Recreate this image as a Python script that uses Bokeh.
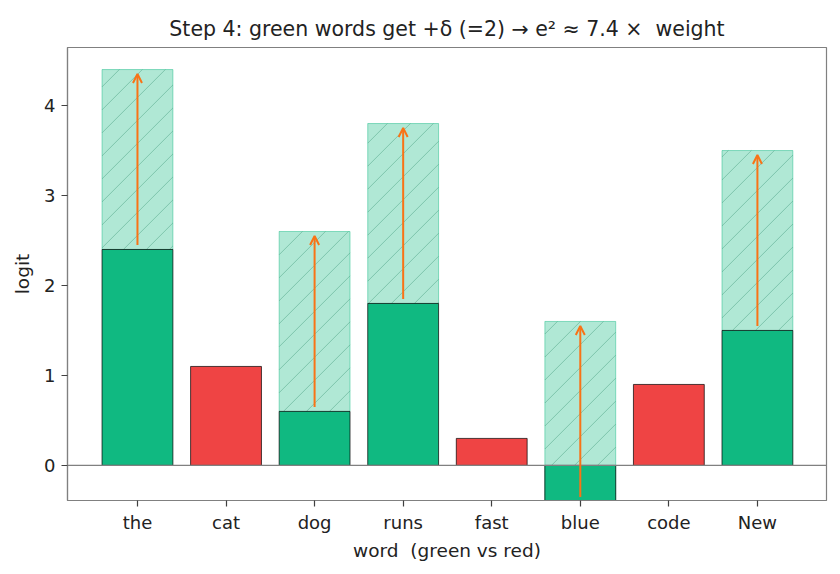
import numpy as np
from bokeh.plotting import figure
from bokeh.models import ColumnDataSource, Arrow, OpenHead, Span, Range1d, FixedTicker
from bokeh.embed import file_html
from bokeh.resources import INLINE

words = ["the", "cat", "dog", "runs", "fast", "blue", "code", "New"]
logits = [2.4, 1.1, 0.6, 1.8, 0.3, -0.4, 0.9, 1.5]
is_green = [True, False, True, True, False, True, False, True]
delta = 2.0

GREEN = "#10b981"
RED = "#ef4444"
ORANGE = "#f97316"
FONT = "DejaVu Sans"
NB = "\u00a0"
BAR_W = 0.8

XR = (-0.79, 7.78)
YR = (-0.39, 4.645)
FW, FH = 759, 453

xs = list(range(len(words)))
colors = [GREEN if g else RED for g in is_green]

gx = [x for x, g in zip(xs, is_green) if g]
gv = [v for v, g in zip(logits, is_green) if g]
boost_src = ColumnDataSource(dict(x=gx, bottom=gv, top=[v + delta for v in gv]))
bar_src = ColumnDataSource(dict(x=xs, top=logits, color=colors))
arrow_src = ColumnDataSource(dict(x=gx, y0=[v + 0.05 for v in gv], y1=[v + delta - 0.05 for v in gv]))

# 45-degree (on screen) hatch lines clipped to each boosted bar
px_x = FW / (XR[1] - XR[0])
px_y = FH / (YR[1] - YR[0])
m = px_x / px_y
d = 23.0 / px_y
hx0, hy0, hx1, hy1 = [], [], [], []
for x, b in zip(gx, gv):
    t = b + delta
    x0, x1 = x - BAR_W / 2, x + BAR_W / 2
    kmin = int(np.floor((b - m * x1) / d)) - 1
    kmax = int(np.ceil((t - m * x0) / d)) + 1
    for k in range(kmin, kmax + 1):
        c = k * d
        sx = max(x0, (b - c) / m)
        ex = min(x1, (t - c) / m)
        if ex - sx > 1e-6:
            hx0.append(sx); hy0.append(m * sx + c)
            hx1.append(ex); hy1.append(m * ex + c)
hatch_src = ColumnDataSource(dict(x0=hx0, y0=hy0, x1=hx1, y1=hy1))

p = figure(width=840, height=574, output_backend="svg", toolbar_location=None,
           x_range=Range1d(*XR), y_range=Range1d(*YR),
           min_border_left=67, min_border_right=14, min_border_top=47, min_border_bottom=74)
p.frame_width = FW
p.frame_height = FH

p.title.text = "Step 4: green words get +δ (=2) → e² ≈ 7.4 ×" + NB + NB + "weight"
p.title.align = "center"
p.title.text_font = FONT
p.title.text_font_size = "20.5px"
p.title.text_font_style = "normal"
p.title.text_color = "#222222"
p.title.standoff = 13

p.vbar(x="x", bottom="bottom", top="top", width=BAR_W, source=boost_src,
       fill_color=GREEN, fill_alpha=0.33, line_color=GREEN, line_alpha=0.45, line_width=1)
p.segment(x0="x0", y0="y0", x1="x1", y1="y1", source=hatch_src,
          line_color="#2e8b6a", line_alpha=0.38, line_width=1)
p.vbar(x="x", top="top", bottom=0, width=BAR_W, source=bar_src,
       fill_color="color", line_color="black", line_width=0.7)

p.add_layout(Span(location=0, dimension="width", line_color="#808080", line_width=1.2))

p.add_layout(Arrow(end=OpenHead(line_color=ORANGE, line_width=2, size=9),
                   x_start="x", y_start="y0", x_end="x", y_end="y1", source=arrow_src,
                   line_color=ORANGE, line_width=2))

p.grid.visible = False
p.outline_line_color = "#808080"
p.outline_line_width = 1.2
p.background_fill_color = "white"
p.border_fill_color = "white"

p.xaxis.ticker = FixedTicker(ticks=xs)
p.xaxis.major_label_overrides = {i: w for i, w in enumerate(words)}
p.yaxis.ticker = FixedTicker(ticks=[0, 1, 2, 3, 4])
p.xaxis.axis_label = "word" + NB + NB + "(green vs red)"
p.yaxis.axis_label = "logit"
for ax in (p.xaxis, p.yaxis):
    ax.axis_line_color = "#808080"
    ax.axis_line_width = 1.2
    ax.major_tick_line_color = "#404040"
    ax.major_tick_line_width = 1.2
    ax.major_tick_out = 6
    ax.major_tick_in = 0
    ax.minor_tick_line_color = None
    ax.major_label_text_font = FONT
    ax.major_label_text_font_size = "18px"
    ax.major_label_text_color = "#222222"
    ax.axis_label_text_font = FONT
    ax.axis_label_text_font_size = "18.5px"
    ax.axis_label_text_font_style = "normal"
    ax.axis_label_text_color = "#222222"
p.xaxis.major_label_standoff = 5
p.yaxis.major_label_standoff = 6
p.xaxis.axis_label_standoff = 4
p.yaxis.axis_label_standoff = 8

open("out.html", "w").write(file_html(p, INLINE))
